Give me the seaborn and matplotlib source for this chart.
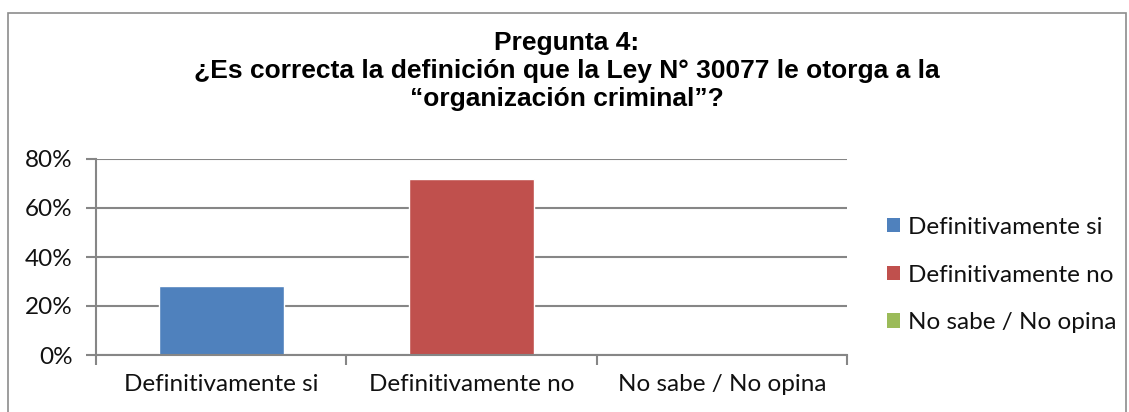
import matplotlib
matplotlib.use("Agg")
import matplotlib.pyplot as plt
import seaborn as sns
import pandas as pd
from matplotlib.patches import Rectangle, Patch
from matplotlib.ticker import FixedLocator, PercentFormatter

categories = ["Definitivamente si", "Definitivamente no", "No sabe / No opina"]
values = [28, 72, 0]
colors = ["#4F81BD", "#C0504D", "#9BBB59"]
yticks = [0, 20, 40, 60, 80]
title = "Pregunta 4:\n¿Es correcta la definición que la Ley N° 30077 le otorga a la\n“organización criminal”?"

sns.set_theme(style="white")
plt.rcParams['font.family'] = ['Lato', 'DejaVu Sans']

df = pd.DataFrame({"cat": categories, "val": values})

fig = plt.figure(figsize=(11.29, 4.12), dpi=100)
ax = fig.add_axes([96/1129, 1-355/412, (847-96)/1129, (355-159)/412])

sns.barplot(data=df, x="cat", y="val", hue="cat", palette=colors, order=categories,
            hue_order=categories, width=0.5, dodge=False, legend=False, ax=ax, saturation=1)

ax.set_ylim(0, 80)
ax.set_xlim(-0.5, 2.5)
ax.set_yticks(yticks)
ax.yaxis.set_major_formatter(PercentFormatter(decimals=0))
ax.set_xlabel("")
ax.set_ylabel("")
ax.grid(axis="y", color="#868686", linewidth=1.5)
ax.set_axisbelow(True)
for s in ["top", "right"]:
    ax.spines[s].set_visible(False)
for s in ["left", "bottom"]:
    ax.spines[s].set_color("#868686")
    ax.spines[s].set_linewidth(1.5)

ax.tick_params(axis="y", which="major", length=7, width=1.5, color="#868686",
               direction="out", left=True, labelsize=17.5, pad=10, labelcolor="#111111")
ax.tick_params(axis="x", which="major", length=0, labelsize=17.5, pad=14, labelcolor="#111111")
ax.xaxis.set_minor_locator(FixedLocator([-0.5, 0.5, 1.5, 2.5]))
ax.tick_params(axis="x", which="minor", length=7, width=1.5, color="#868686",
               direction="out", bottom=True)

handles = [Patch(facecolor=c, edgecolor="none") for c in colors]
fig.legend(handles, categories, loc="center left", bbox_to_anchor=(887/1129, 1-275/412),
           frameon=False, fontsize=17.5, handlelength=0.55, handleheight=0.55,
           handletextpad=0.33, labelspacing=1.1, borderpad=0, borderaxespad=0,
           labelcolor="#111111")

fig.text(567/1129, 1-71/412, title, ha="center", va="center", fontsize=19,
         fontweight="bold", color="black",
         family=["Liberation Sans Narrow", "Liberation Sans", "DejaVu Sans"],
         linespacing=1.22)

fig.patches.append(Rectangle((8/1129, -0.1), (1126-8)/1129, 1.1 - 13/412, transform=fig.transFigure,
                             fill=False, edgecolor="#8c8c8c", linewidth=1.2))

fig.savefig("out.png", dpi=100)
